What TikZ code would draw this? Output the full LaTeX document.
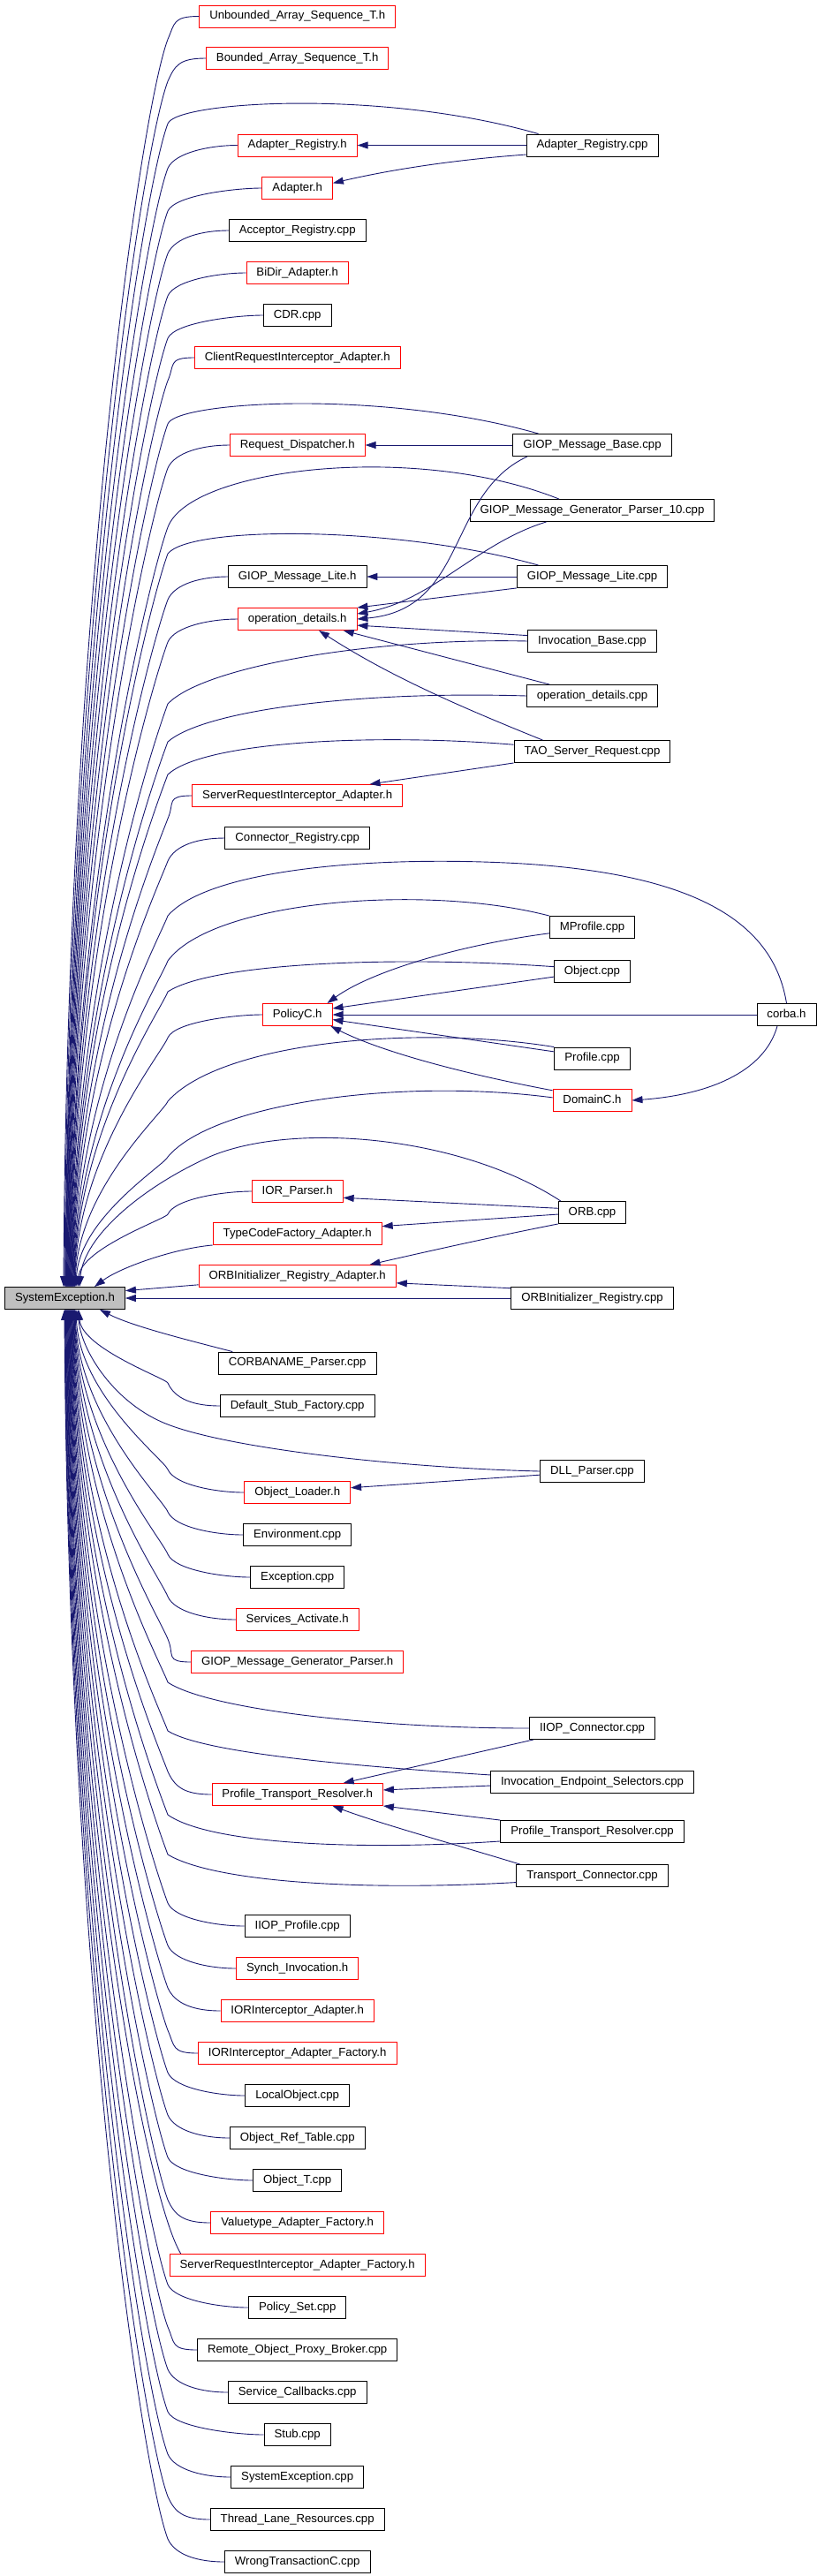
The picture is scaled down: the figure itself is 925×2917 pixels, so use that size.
\documentclass[tikz,border=0pt]{standalone}
\usepackage{fontspec}
\setmainfont{Liberation Sans}
\usetikzlibrary{arrows.meta}
\definecolor{edgeblue}{RGB}{25,25,112}
\definecolor{segray}{RGB}{191,191,191}
% generic edge from a middle node above SystemException.h
\newcommand\UpE[3]{\draw[e] (#1.west) .. controls +(-30,0) and (198,{#2+8}) .. (190,{#2+26}) .. controls ({190-0.0225*(1431-#2)},{#2+26+0.06*(1431-#2)}) and ({#3+4},{#2+26+0.47*(1431-#2)}) .. (SE.north -| #3,0);}
% generic edge from a middle node below SystemException.h
\newcommand\DnE[3]{\draw[e] (#1.west) .. controls +(-30,0) and (198,{#2-8}) .. (190,{#2-26}) .. controls ({190-0.0225*(#2-1509)},{#2-26-0.06*(#2-1509)}) and ({#3+4},{#2-26-0.47*(#2-1509)}) .. (SE.south -| #3,0);}
% tail of a long arc, from (190,#2) to the top / bottom of SystemException.h
\newcommand\ArcU[3]{\draw[e] #1 .. controls ({190-0.0225*(1457-#2)},{#2+0.06*(1457-#2)}) and ({#3+4},{#2+0.47*(1457-#2)}) .. (SE.north -| #3,0);}
\newcommand\ArcD[3]{\draw[e] #1 .. controls ({190-0.0225*(#2-1483)},{#2-0.06*(#2-1483)}) and ({#3+4},{#2-0.47*(#2-1483)}) .. (SE.south -| #3,0);}
\begin{document}
\begin{tikzpicture}[x=1pt,y=-1pt,
  box/.style={draw, line width=0.9pt, minimum height=25pt, inner xsep=11.5pt, inner ysep=0pt,
    text height=9.6pt, text depth=2.8pt, font=\fontsize{13.2}{15}\selectfont},
  rbox/.style={box, draw=red},
  kbox/.style={box, draw=black},
  e/.style={draw=edgeblue, line width=0.9pt, -{Triangle[length=12pt,width=8pt]}}]
\useasboundingbox (0,0) rectangle (925,2917);
% ---------- nodes: central
\node[kbox, fill=segray] (SE) at (73.5,1470) {SystemException.h};
% ---------- middle column above
\node[rbox] (n1) at (336.7,18.5) {Unbounded\_Array\_Sequence\_T.h};
\node[rbox] (n2) at (336.7,66) {Bounded\_Array\_Sequence\_T.h};
\node[rbox] (n3) at (336.7,164.5) {Adapter\_Registry.h};
\node[rbox] (n4) at (336.7,213) {Adapter.h};
\node[kbox] (n5) at (336.7,261) {Acceptor\_Registry.cpp};
\node[rbox] (n6) at (336.7,309) {BiDir\_Adapter.h};
\node[kbox] (n7) at (336.7,357) {CDR.cpp};
\node[rbox] (n8) at (336.7,405) {ClientRequestInterceptor\_Adapter.h};
\node[rbox] (n9) at (336.7,504) {Request\_Dispatcher.h};
\node[kbox] (n10) at (336.7,653) {GIOP\_Message\_Lite.h};
\node[rbox] (n11) at (336.7,701) {operation\_details.h};
\node[rbox] (n12) at (336.7,901) {ServerRequestInterceptor\_Adapter.h};
\node[kbox] (n13) at (336.7,949) {Connector\_Registry.cpp};
\node[rbox] (n14) at (336.7,1149) {PolicyC.h};
\node[rbox] (n15) at (336.7,1349) {IOR\_Parser.h};
\node[rbox] (n16) at (336.7,1397) {TypeCodeFactory\_Adapter.h};
\node[rbox] (n17) at (336.7,1445) {ORBInitializer\_Registry\_Adapter.h};
% ---------- middle column below
\node[kbox] (b1) at (336.7,1543.5) {CORBANAME\_Parser.cpp};
\node[kbox] (b2) at (336.7,1592) {Default\_Stub\_Factory.cpp};
\node[rbox] (b3) at (336.7,1690) {Object\_Loader.h};
\node[kbox] (b4) at (336.7,1738) {Environment.cpp};
\node[kbox] (b5) at (336.7,1786) {Exception.cpp};
\node[rbox] (b6) at (336.7,1834) {Services\_Activate.h};
\node[rbox] (b7) at (336.7,1882) {GIOP\_Message\_Generator\_Parser.h};
\node[rbox] (b8) at (336.7,2032) {Profile\_Transport\_Resolver.h};
\node[kbox] (b9) at (336.7,2181) {IIOP\_Profile.cpp};
\node[rbox] (b10) at (336.7,2229) {Synch\_Invocation.h};
\node[rbox] (b11) at (336.7,2277) {IORInterceptor\_Adapter.h};
\node[rbox] (b12) at (336.7,2325) {IORInterceptor\_Adapter\_Factory.h};
\node[kbox] (b13) at (336.7,2373) {LocalObject.cpp};
\node[kbox] (b14) at (336.7,2421) {Object\_Ref\_Table.cpp};
\node[kbox] (b15) at (336.7,2469) {Object\_T.cpp};
\node[rbox] (b16) at (336.7,2517) {Valuetype\_Adapter\_Factory.h};
\node[rbox] (b17) at (336.7,2565) {ServerRequestInterceptor\_Adapter\_Factory.h};
\node[kbox] (b18) at (336.7,2613) {Policy\_Set.cpp};
\node[kbox] (b19) at (336.7,2661) {Remote\_Object\_Proxy\_Broker.cpp};
\node[kbox] (b20) at (336.7,2709) {Service\_Callbacks.cpp};
\node[kbox] (b21) at (336.7,2757) {Stub.cpp};
\node[kbox] (b22) at (336.7,2805) {SystemException.cpp};
\node[kbox] (b23) at (336.7,2853) {Thread\_Lane\_Resources.cpp};
\node[kbox] (b24) at (336.7,2901) {WrongTransactionC.cpp};
% ---------- right column
\node[kbox] (r1) at (670.5,164.5) {Adapter\_Registry.cpp};
\node[kbox] (r2) at (670.5,504) {GIOP\_Message\_Base.cpp};
\node[kbox] (r3) at (670.5,578) {GIOP\_Message\_Generator\_Parser\_10.cpp};
\node[kbox] (r4) at (670.5,653) {GIOP\_Message\_Lite.cpp};
\node[kbox] (r5) at (670.5,726) {Invocation\_Base.cpp};
\node[kbox] (r6) at (670.5,788) {operation\_details.cpp};
\node[kbox] (r7) at (670.5,851) {TAO\_Server\_Request.cpp};
\node[kbox] (r8) at (670.5,1050) {MProfile.cpp};
\node[kbox] (r9) at (670.5,1100) {Object.cpp};
\node[kbox] (r10) at (670.5,1198.5) {Profile.cpp};
\node[rbox] (r11) at (670.5,1246) {DomainC.h};
\node[kbox] (corba) at (890.5,1149) {corba.h};
\node[kbox] (r12) at (670.5,1373) {ORB.cpp};
\node[kbox] (r13) at (670.5,1470) {ORBInitializer\_Registry.cpp};
\node[kbox] (r14) at (670.5,1666) {DLL\_Parser.cpp};
\node[kbox] (r15) at (670.5,1957) {IIOP\_Connector.cpp};
\node[kbox] (r16) at (670.5,2018) {Invocation\_Endpoint\_Selectors.cpp};
\node[kbox] (r17) at (670.5,2074) {Profile\_Transport\_Resolver.cpp};
\node[kbox] (r18) at (670.5,2124) {Transport\_Connector.cpp};
% ---------- edges from the middle column to SystemException.h
\UpE{n1}{18.5}{72}
\UpE{n2}{66}{73}
\UpE{n3}{164.5}{74.5}
\UpE{n4}{213}{75}
\UpE{n5}{261}{75.5}
\UpE{n6}{309}{76}
\UpE{n7}{357}{76.5}
\UpE{n8}{405}{77}
\UpE{n9}{504}{78}
\UpE{n10}{653}{79.5}
\UpE{n11}{701}{80}
\UpE{n12}{901}{82}
\UpE{n13}{949}{82.5}
\UpE{n14}{1149}{84.5}
\UpE{n15}{1349}{88}
\draw[e] (n16.south west) .. controls (195,1414) and (135,1436) .. (SE.north -| 107,0);
\draw[e] (n17.185) -- (SE.7);
\draw[e] (r13.west) -- (SE.east);
\draw[e] (b1.170) .. controls (215,1518) and (150,1502) .. (SE.south -| 113,0);
\DnE{b2}{1592}{89}
\DnE{b3}{1690}{86}
\DnE{b4}{1738}{85}
\DnE{b5}{1786}{84.5}
\DnE{b6}{1834}{84}
\DnE{b7}{1882}{83.5}
\DnE{b8}{2032}{82}
\DnE{b9}{2181}{80.5}
\DnE{b10}{2229}{80}
\DnE{b11}{2277}{79.5}
\DnE{b12}{2325}{79}
\DnE{b13}{2373}{78.5}
\DnE{b14}{2421}{78}
\DnE{b15}{2469}{77.5}
\DnE{b16}{2517}{77}
\ArcD{([xshift=13pt]b17.north west)}{2552.5}{76.5}
\DnE{b18}{2613}{76}
\DnE{b19}{2661}{75.5}
\DnE{b20}{2709}{75}
\DnE{b21}{2757}{74.5}
\DnE{b22}{2805}{74}
\DnE{b23}{2853}{73.5}
\DnE{b24}{2901}{73}
% ---------- long edges from the right column to SystemException.h
\ArcU{(r1.168) .. controls (430,100) and (199,115) .. (190,140)}{140}{74}
\ArcU{(r2.168) .. controls (430,440) and (199,455) .. (190,480)}{480}{77.5}
\ArcU{(r3.161) .. controls (470,500) and (215,530) .. (190,597)}{597}{78.5}
\ArcU{(r4.168) .. controls (450,595) and (215,595) .. (190,627)}{627}{79}
\ArcU{(r5.west) .. controls (420,722) and (230,755) .. (190,797)}{797}{80.5}
\ArcU{(r6.west) .. controls (400,782) and (230,805) .. (190,840)}{840}{81}
\ArcU{(r7.175) .. controls (420,830) and (230,840) .. (190,877)}{877}{81.5}
\ArcU{(corba.north) .. controls (875,1040) and (780,990) .. (592,978) .. controls (420,968) and (235,985) .. (190,1037)}{1037}{83}
\ArcU{(r8.north west) .. controls (480,1000) and (240,1020) .. (190,1088)}{1088}{83.5}
\ArcU{(r9.173) .. controls (450,1082) and (240,1090) .. (190,1123)}{1123}{84}
\ArcU{(r10.north west) .. controls (470,1160) and (250,1180) .. (190,1247)}{1247}{85}
\ArcU{(r11.176) .. controls (450,1220) and (240,1250) .. (190,1310)}{1310}{86}
\draw[e] (r12.160) .. controls (520,1285) and (330,1270) .. (237,1310) .. controls (160,1345) and (95,1400) .. (SE.north -| 90,0);
\draw[e] (r14.west) .. controls (450,1662) and (260,1640) .. (190,1613) .. controls (130,1590) and (92,1530) .. (SE.south -| 88,0);
\ArcD{(r15.west) .. controls (420,1957) and (235,1935) .. (190,1905)}{1905}{83}
\ArcD{(r16.176) .. controls (400,2000) and (230,1985) .. (190,1960)}{1960}{82.5}
\ArcD{(r17.186) .. controls (420,2095) and (240,2090) .. (190,2055)}{2055}{81.5}
\ArcD{(r18.185) .. controls (400,2142) and (240,2130) .. (190,2100)}{2100}{81}
% ---------- edges between the other files
\draw[e] (r1.west) -- (n3.east);
\draw[e] (r1.188) .. controls (500,182) and (430,195) .. (n4.8);
\draw[e] (r2.west) -- (n9.east);
\draw[e] (r4.west) -- (n10.east);
\draw[e] (r2.190) .. controls (505,560) and (530,690) .. (n11.east);
\draw[e] (r3.194) .. controls (540,615) and (490,680) .. (n11.5);
\draw[e] (r4.south west) -- (n11.north east);
\draw[e] (r5.175) -- (n11.-6);
\draw[e] (r6.165) -- (n11.-14);
\draw[e] (r7.167) .. controls (520,800) and (440,765) .. (n11.-28);
\draw[e] (r7.south west) -- (n12.9);
\draw[e] (r8.188) .. controls (520,1070) and (420,1100) .. (n14.21);
\draw[e] (r9.188) -- (n14.10);
\draw[e] (corba.west) -- (n14.east);
\draw[e] (r10.170) -- (n14.-8);
\draw[e] (r11.166) .. controls (520,1215) and (430,1190) .. (n14.-19);
\draw[e] (corba.231) .. controls (865,1215) and (800,1240) .. (r11.east);
\draw[e] (r12.173) -- (n15.-8);
\draw[e] (r12.183) -- (n16.5);
\draw[e] (r12.south west) .. controls (560,1400) and (480,1418) .. (n17.9);
\draw[e] (r13.173) -- (n17.-4);
\draw[e] (r14.184) -- (b3.5);
\draw[e] (r15.191) -- (b8.14);
\draw[e] (r16.182) -- (b8.3);
\draw[e] (r17.north west) -- (b8.south east);
\draw[e] (r18.171) .. controls (520,2090) and (430,2065) .. (b8.-18);
\end{tikzpicture}
\end{document}
